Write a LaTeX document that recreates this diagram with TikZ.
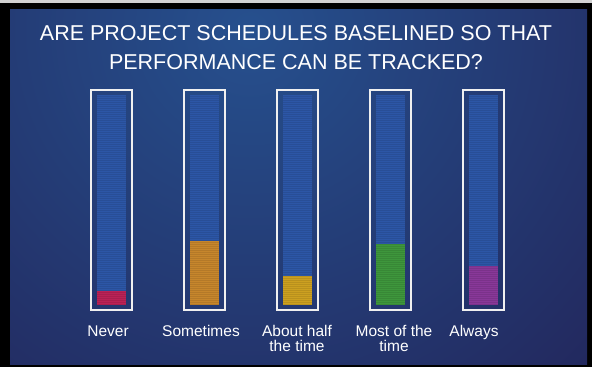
\documentclass[tikz,border=0pt]{standalone}
\usepackage{fontspec}
\setmainfont{Liberation Sans}
\usepackage{xcolor}
\usetikzlibrary{calc}
\definecolor{bgtop}{RGB}{38,80,142}
\definecolor{bgbot}{RGB}{34,37,90}
\definecolor{tube}{RGB}{44,86,166}
\definecolor{never}{RGB}{186,34,86}
\definecolor{sometimes}{RGB}{198,134,44}
\definecolor{half}{RGB}{204,160,32}
\definecolor{most}{RGB}{62,150,60}
\definecolor{always}{RGB}{136,56,152}
\tikzset{
  frame/.style={draw=white!88!gray, line width=1.4pt},
  answer/.style={text=white, font=\fontsize{15.5}{15}\selectfont, align=center, anchor=north},
  title/.style={text=white, font=\fontsize{21.5}{29}\selectfont, align=center}
}

\begin{document}
\begin{tikzpicture}[x=1pt, y=-1pt]
    \useasboundingbox (0, 0) rectangle (592, 367);
    \fill[black] (0, 0) rectangle (592, 367);
    \fill[gray!35] (0, 0) rectangle (592, 2.5);
    \begin{scope}
      \clip (10, 9) rectangle (587, 364);
      \fill[bgbot] (10, 9) rectangle (587, 364);
      \shade[inner color=bgtop, outer color=bgbot] (250, 30) circle (520);
    \end{scope}
    \node[title] (question) at (296, 47.5) {ARE PROJECT SCHEDULES BASELINED SO THAT\\PERFORMANCE CAN BE TRACKED?};
    \foreach \x/\top/\col/\name in {91/291/never/n, 184/241/sometimes/s, 277/276/half/h, 370/244/most/m, 463/266/always/a} {
      \fill[tube] (\x+6, 95) rectangle (\x+35, \top);
      \fill[\col] (\x+6, \top) rectangle (\x+35, 305);
      \foreach \y in {96, 98, ..., 304}
        \draw[black, opacity=0.09, line width=0.5pt] (\x+6, \y) -- (\x+35, \y);
      \draw[frame] (\x, 90) rectangle (\x+41, 310);
      \coordinate (bar-\name) at (\x+20.5, 310);
    }
    \node[answer] (never) at (108, 322) {Never};
    \node[answer] (sometimes) at (201, 322) {Sometimes};
    \node[answer] (half) at (297, 322) {About half\\the time};
    \node[answer] (most) at (394, 322) {Most of the\\time};
    \node[answer] (always) at (474, 322) {Always};
  \end{tikzpicture}
\end{document}
